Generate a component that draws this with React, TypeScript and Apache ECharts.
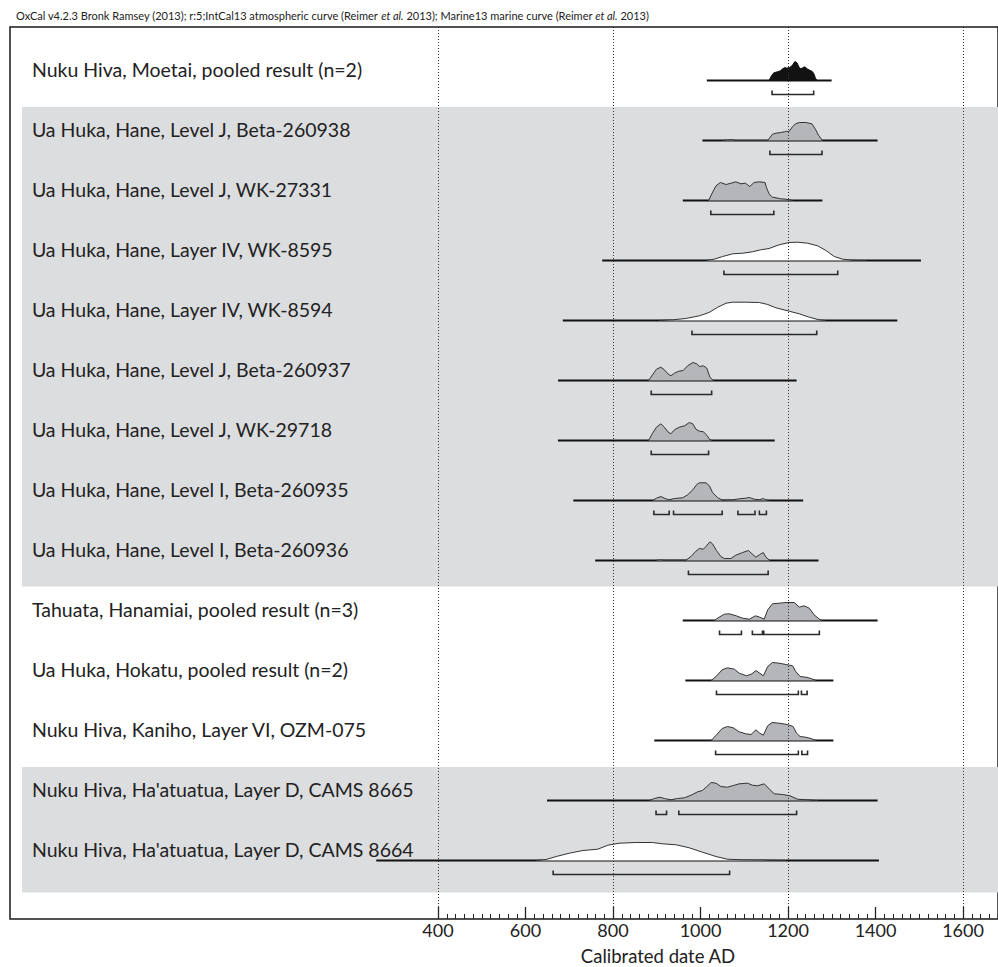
import React, { useEffect, useRef } from "react";
import * as echarts from "echarts";

// ---------- data ----------
const titleText =
  "OxCal v4.2.3 Bronk Ramsey (2013); r:5;IntCal13 atmospheric curve (Reimer {i|et al.} 2013); Marine13 marine curve (Reimer {i|et al.} 2013)";
const axisTitle = "Calibrated date AD";

const labels = [
  "Nuku Hiva, Moetai, pooled result (n=2)",
  "Ua Huka, Hane, Level J, Beta-260938",
  "Ua Huka, Hane, Level J, WK-27331",
  "Ua Huka, Hane, Layer IV, WK-8595",
  "Ua Huka, Hane, Layer IV, WK-8594",
  "Ua Huka, Hane, Level J, Beta-260937",
  "Ua Huka, Hane, Level J, WK-29718",
  "Ua Huka, Hane, Level I, Beta-260935",
  "Ua Huka, Hane, Level I, Beta-260936",
  "Tahuata, Hanamiai, pooled result (n=3)",
  "Ua Huka, Hokatu, pooled result (n=2)",
  "Nuku Hiva, Kaniho, Layer VI, OZM-075",
  "Nuku Hiva, Ha'atuatua, Layer D, CAMS 8665",
  "Nuku Hiva, Ha'atuatua, Layer D, CAMS 8664",
];

const fillKinds = [
  "black", "gray", "gray", "white", "white", "gray", "gray",
  "gray", "gray", "gray", "gray", "gray", "gray", "white",
];

// full extent of each likelihood line (calendar years AD)
const spans = [
  [1015, 1300], [1005, 1405], [960, 1279], [776, 1504], [686, 1450],
  [675, 1220], [675, 1170], [710, 1235], [760, 1270], [960, 1405],
  [966, 1304], [895, 1304], [650, 1405], [260, 1408],
];

// probability density curves: [year AD, relative probability]
const moetai = [[1157,0],[1163,5],[1168,7.7],[1176,8.7],[1183,9.7],[1188,11.7],[1194,13],[1198,12.3],[1203,13],[1207,13.7],[1212,16.3],[1216,19],[1221,17.7],[1226,13],[1230,11.7],[1235,13],[1239,13.7],[1244,11.7],[1250,10.3],[1256,9],[1260,6.3],[1263,2.3],[1267,0]];
const beta260938 = [[1050,0],[1062,0.7],[1075,0.7],[1080,0],[1154,0],[1165,6.3],[1173,7.3],[1184,8],[1192,8.7],[1197,9.3],[1202,8.7],[1211,14],[1218,16.7],[1226,18],[1241,18],[1255,16.7],[1263,11.3],[1270,5.3],[1279,0]];
const wk27331 = [[1019,0],[1027,7.3],[1036,14.7],[1046,18],[1059,16],[1070,17.3],[1081,18.7],[1093,16.7],[1103,17.3],[1113,14],[1123,18],[1135,18.7],[1148,18],[1151,13.3],[1157,6.7],[1165,3.3],[1173,2.7],[1184,1.7],[1195,1.3],[1211,0]];
const wk8595 = [[1013,0],[1032,1.3],[1051,4],[1074,6.7],[1097,7.3],[1119,8.7],[1138,10.7],[1157,12],[1180,15.7],[1203,18],[1222,18.3],[1245,17.3],[1268,14.7],[1287,10],[1306,4],[1325,1.3],[1347,0.3],[1378,0]];
const wk8594 = [[906,0],[937,0.7],[967,2],[998,4.7],[1020,8],[1040,13.3],[1059,17.3],[1074,18.3],[1104,18.3],[1135,18],[1154,16],[1173,12.7],[1203,9.3],[1226,6.7],[1249,3.3],[1271,0.7],[1287,0]];
const beta260937 = [[882,0],[891,5.7],[900,11.3],[910,13.3],[918,10.7],[926,6.7],[933,4.7],[941,7.3],[951,9.3],[961,10],[971,14.7],[983,18],[992,16.7],[998,14],[1007,14.7],[1015,12.3],[1022,3.3],[1030,0]];
const wk29718 = [[882,0],[891,7.3],[900,13.3],[910,16.7],[918,13.3],[926,8.7],[933,6.7],[941,10.7],[952,13.3],[964,14.7],[975,18],[983,16.7],[990,11.3],[998,9.3],[1007,8.7],[1015,5.3],[1022,0.7],[1027,0]];
const beta260935 = [[891,0],[900,2.3],[910,4],[918,2.3],[928,0.7],[941,2],[960,2.7],[971,5.7],[983,10.7],[992,16],[998,17.7],[1013,17.7],[1021,14.7],[1028,8],[1040,2.7],[1051,0.3],[1074,0.7],[1089,1.7],[1104,2.3],[1112,3],[1123,1.3],[1135,0.7],[1144,2],[1150,0.7],[1157,0]];
const beta260936 = [[899,0],[907,0.7],[918,0.3],[967,0.3],[979,4],[990,9.3],[998,12],[1007,11.3],[1013,14],[1022,18.7],[1028,16.7],[1037,10],[1047,4],[1055,2],[1070,2],[1081,5.3],[1097,8],[1110,10],[1118,6.7],[1127,3.3],[1136,6],[1144,8],[1150,3.3],[1159,0]];
const tahuata = [[1032,0],[1043,3.3],[1055,6.3],[1066,6.7],[1082,4.7],[1097,2.3],[1112,1.3],[1126,4.7],[1136,3.3],[1146,1.3],[1154,10.7],[1165,16.7],[1180,17.3],[1196,18],[1215,18],[1226,13.3],[1237,14.7],[1249,12.3],[1260,5.7],[1272,1.3],[1279,0]];
const hokatu = [[1025,0],[1036,4],[1050,10.7],[1062,12.7],[1078,11.3],[1089,7.3],[1106,4.7],[1118,6.7],[1127,10],[1136,7.3],[1144,4.7],[1154,14],[1165,18],[1180,17.3],[1196,16],[1211,14.7],[1218,9],[1228,4],[1241,3.3],[1253,2],[1264,0]];
const kaniho = [[1025,0],[1037,5.7],[1050,12],[1062,14],[1075,12.7],[1089,8.7],[1104,6.7],[1116,6],[1127,10.7],[1136,7.3],[1144,5.3],[1154,14.7],[1164,18],[1180,17.3],[1199,16],[1212,14],[1220,7.3],[1228,4],[1241,3.3],[1253,2],[1264,0]];
const cams8665 = [[884,0],[895,2],[908,3.3],[918,2],[933,0.7],[948,2],[964,2.7],[979,5.3],[994,8.7],[1005,10],[1015,14],[1025,18],[1036,17.3],[1047,14],[1062,13.3],[1078,15.3],[1089,16.7],[1108,17.3],[1119,15.3],[1131,14.7],[1146,16.7],[1158,11.3],[1169,6.7],[1188,6],[1205,4.7],[1222,1.3],[1256,0.3],[1268,0]];
const cams8664 = [[625,0],[648,1],[671,4],[701,7.3],[732,10],[766,11.3],[789,15.3],[815,17.3],[853,18],[891,18],[914,16.7],[945,15.7],[975,12.7],[1005,8.3],[1036,4],[1062,1.3],[1097,0.7],[1158,0.3],[1196,0]];

const curves = [
  moetai, beta260938, wk27331, wk8595, wk8594, beta260937, wk29718,
  beta260935, beta260936, tahuata, hokatu, kaniho, cams8665, cams8664,
];

// 95.4% highest posterior density ranges
const ranges = [
  [[1164, 1259]],
  [[1159, 1278]],
  [[1024, 1168]],
  [[1054, 1314]],
  [[981, 1266]],
  [[888, 1026]],
  [[888, 1019]],
  [[894, 929], [939, 1050], [1086, 1125], [1135, 1151]],
  [[973, 1155]],
  [[1044, 1094], [1119, 1142], [1145, 1272]],
  [[1037, 1224], [1231, 1244]],
  [[1035, 1224], [1232, 1245]],
  [[899, 923], [951, 1220]],
  [[664, 1067]],
];

const tickYears = [400, 600, 800, 1000, 1200, 1400, 1600];
const refYears = [400, 800, 1200, 1600];
const bandRows = [[1, 8], [12, 13]];

// ---------- layout / style ----------
const W = 998;
const H = 967;
const FONT = "Lato, 'Open Sans', sans-serif";
const FRAME_LEFT = 10;
const FRAME_TOP = 27;
const AXIS_Y = 919;
const TICK_LEFT = 438; // pixel of first tick (400)
const RIGHT_EDGE = 999;
const TICK_MIN = 400;
const X_MAX = 1680;
const PX_PER_YEAR = (RIGHT_EDGE - TICK_LEFT) / (X_MAX - TICK_MIN);
const X_MIN = TICK_MIN - (TICK_LEFT - FRAME_LEFT) / PX_PER_YEAR;
const ROW_PX = 60;
const FIRST_BASE = 80.5;
const Y_MIN = (FRAME_TOP - FIRST_BASE) / ROW_PX;
const Y_MAX = (AXIS_Y - FIRST_BASE) / ROW_PX;
const DENS = 1 / ROW_PX;
const BAND_LEFT = 22;
const BAND_PAD_TOP = 33.5;
const BAND_PAD_BOTTOM = [26, 32];

const fillColors: Record<string, string> = {
  black: "#121212",
  gray: "#b5b6b9",
  white: "#ffffff",
};
const strokeColors: Record<string, string> = {
  black: "#121212",
  gray: "#333333",
  white: "#333333",
};

export default function App() {
  const ref = useRef<HTMLDivElement>(null);

  useEffect(() => {
    if (!ref.current) return;
    const chart = echarts.init(ref.current, null, { renderer: "svg" });

    const option: any = {
      animation: false,
      backgroundColor: "#ffffff",
      grid: [
        {
          left: FRAME_LEFT,
          right: W - RIGHT_EDGE,
          top: FRAME_TOP,
          bottom: H - AXIS_Y,
          show: true,
          borderColor: "#1a1a1a",
          borderWidth: 1.5,
          backgroundColor: "transparent",
        },
        {
          left: TICK_LEFT,
          right: W - RIGHT_EDGE,
          top: FRAME_TOP,
          bottom: H - AXIS_Y,
        },
      ],
      xAxis: [
        {
          gridIndex: 0,
          type: "value",
          position: "bottom",
          min: X_MIN,
          max: X_MAX,
          axisLine: { show: false },
          axisTick: { show: false },
          axisLabel: { show: false },
          splitLine: { show: false },
        },
        {
          gridIndex: 1,
          type: "value",
          position: "bottom",
          min: TICK_MIN,
          max: X_MAX,
          interval: 20,
          axisLine: { show: false },
          axisTick: { show: true, inside: true, length: 5, lineStyle: { color: "#222", width: 1 } },
          axisLabel: { show: false },
          splitLine: { show: false },
        },
        {
          gridIndex: 1,
          type: "value",
          position: "bottom",
          offset: 0,
          min: TICK_MIN,
          max: X_MAX,
          interval: 200,
          axisLine: { show: false },
          axisTick: { show: true, inside: true, length: 12, lineStyle: { color: "#222", width: 1.3 } },
          axisLabel: {
            show: true,
            showMaxLabel: false,
            margin: 2,
            fontSize: 18,
            fontFamily: FONT,
            color: "#222",
            formatter: (v: number) => (tickYears.indexOf(v) >= 0 ? String(v) : ""),
          },
          splitLine: { show: false },
        },
      ],
      yAxis: [
        { gridIndex: 0, type: "value", min: Y_MIN, max: Y_MAX, inverse: true, show: false },
        { gridIndex: 1, type: "value", min: 0, max: 1, show: false },
      ],
      graphic: [
        {
          type: "text",
          x: 16,
          y: 15,
          style: {
            text: titleText,
            fontSize: 11,
            fontFamily: FONT,
            fill: "#222",
            verticalAlign: "middle",
            rich: { i: { fontStyle: "italic", fontSize: 11, fontFamily: FONT, fill: "#222" } },
          },
        },
        {
          type: "text",
          x: 658,
          y: 956,
          style: {
            text: axisTitle,
            fontSize: 18.5,
            fontFamily: FONT,
            fill: "#222",
            align: "center",
            verticalAlign: "middle",
          },
        },
      ],
      series: [
        {
          type: "custom",
          name: "bands",
          xAxisIndex: 0,
          yAxisIndex: 0,
          silent: true,
          z: 1,
          data: bandRows.map((b, i) => [b[0], b[1], i]),
          renderItem: (params: any, api: any) => {
            const b = bandRows[params.dataIndex];
            const top = api.coord([X_MIN, b[0]])[1] - BAND_PAD_TOP;
            const bot = api.coord([X_MIN, b[1]])[1] + BAND_PAD_BOTTOM[params.dataIndex];
            return {
              type: "rect",
              shape: { x: BAND_LEFT, y: top, width: RIGHT_EDGE - BAND_LEFT + 2, height: bot - top },
              style: { fill: "#dcdddf" },
            };
          },
        },
        {
          type: "custom",
          name: "distributions",
          xAxisIndex: 0,
          yAxisIndex: 0,
          silent: true,
          z: 2,
          data: labels.map((_, i) => [spans[i][0], i]),
          renderItem: (params: any, api: any) => {
            const i = params.dataIndex;
            const kind = fillKinds[i];
            const a = api.coord([spans[i][0], i]);
            const b = api.coord([spans[i][1], i]);
            const children: any[] = [];
            children.push({
              type: "text",
              style: {
                text: labels[i],
                x: 32,
                y: a[1] - 11.5,
                fontSize: 19.5,
                fontFamily: FONT,
                fill: "#222",
                verticalAlign: "middle",
                align: "left",
              },
            });
            children.push({
              type: "line",
              shape: { x1: a[0], y1: a[1], x2: b[0], y2: b[1] },
              style: { stroke: "#111", lineWidth: 2 },
            });
            const pts = curves[i].map((p) => api.coord([p[0], i - p[1] * DENS]));
            children.push({
              type: "polygon",
              shape: { points: pts },
              style: { fill: fillColors[kind], stroke: null },
            });
            children.push({
              type: "polyline",
              shape: { points: pts },
              style: { fill: null, stroke: strokeColors[kind], lineWidth: 1 },
            });
            ranges[i].forEach((r) => {
              const p0 = api.coord([r[0], i]);
              const p1 = api.coord([r[1], i]);
              const y = p0[1] + 14;
              children.push({
                type: "polyline",
                shape: { points: [[p0[0], y - 4], [p0[0], y], [p1[0], y], [p1[0], y - 4]] },
                style: { fill: null, stroke: "#2a2a2a", lineWidth: 1.6 },
              });
            });
            return { type: "group", children };
          },
        },
        {
          type: "custom",
          name: "reference lines",
          xAxisIndex: 0,
          yAxisIndex: 0,
          silent: true,
          z: 3,
          data: refYears.map((y) => [y, 0]),
          renderItem: (params: any, api: any) => {
            const yr = refYears[params.dataIndex];
            const p0 = api.coord([yr, Y_MIN]);
            const p1 = api.coord([yr, Y_MAX]);
            return {
              type: "line",
              shape: { x1: Math.round(p0[0]) + 0.5, y1: p0[1], x2: Math.round(p1[0]) + 0.5, y2: p1[1] },
              style: { stroke: "#333", lineWidth: 1, lineDash: [1, 2] },
            };
          },
        },
      ],
    };

    chart.setOption(option);
    return () => chart.dispose();
  }, []);

  return (
    <div
      ref={ref}
      style={{ position: "fixed", left: 0, top: 0, width: W, height: H, background: "#fff" }}
    />
  );
}
